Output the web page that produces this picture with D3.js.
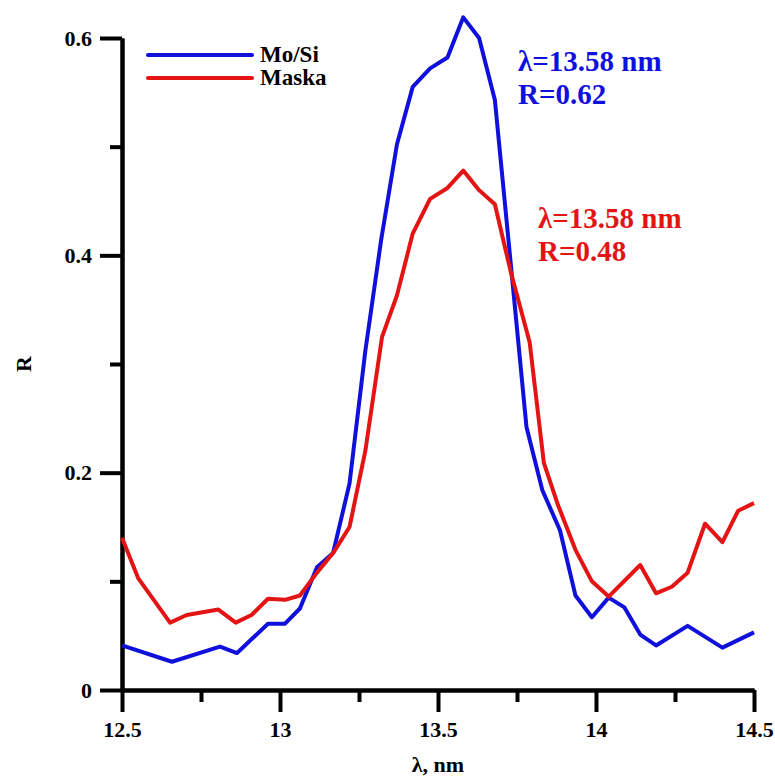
<!DOCTYPE html>
<html>
<head>
<meta charset="utf-8">
<script src="https://cdn.jsdelivr.net/npm/d3@7"></script>
<style>
  body { margin: 0; background: #fff; }
  text { font-family: "Liberation Serif", "Times New Roman", serif; font-weight: bold; }
</style>
</head>
<body>
<div class="canvas"></div>
<script>
// values
const moSiLambda = [12.5, 12.658, 12.81, 12.864, 12.962, 13.016, 13.063, 13.117, 13.168, 13.22,
  13.27, 13.32, 13.37, 13.42, 13.475, 13.53, 13.58, 13.63, 13.68, 13.73, 13.78, 13.83, 13.886,
  13.935, 13.987, 14.04, 14.09, 14.14, 14.19, 14.29, 14.40, 14.5];
const moSiR = [0.041, 0.026, 0.040, 0.034, 0.061, 0.061, 0.075, 0.113, 0.126, 0.19,
  0.312, 0.414, 0.502, 0.555, 0.572, 0.582, 0.619, 0.60, 0.543, 0.393, 0.242, 0.184, 0.147,
  0.087, 0.067, 0.085, 0.076, 0.051, 0.041, 0.059, 0.039, 0.053];

const maskaLambda = [12.5, 12.551, 12.652, 12.705, 12.805, 12.86, 12.91, 12.962, 13.016, 13.063,
  13.117, 13.168, 13.22, 13.27, 13.323, 13.37, 13.42, 13.475, 13.53, 13.58, 13.63, 13.68, 13.73,
  13.79, 13.835, 13.88, 13.935, 13.987, 14.04, 14.14, 14.19, 14.24, 14.29, 14.345, 14.40, 14.45, 14.5];
const maskaR = [0.140, 0.103, 0.062, 0.069, 0.074, 0.062, 0.069, 0.084, 0.083, 0.087,
  0.108, 0.126, 0.150, 0.22, 0.325, 0.363, 0.42, 0.452, 0.462, 0.478, 0.46, 0.447, 0.385,
  0.32, 0.209, 0.17, 0.129, 0.10, 0.086, 0.115, 0.089, 0.095, 0.108, 0.153, 0.136, 0.165, 0.172];

const xMajor = [12.5, 13, 13.5, 14, 14.5];
const xMinor = [12.75, 13.25, 13.75, 14.25];
const yMajor = [0, 0.2, 0.4, 0.6];
const yMinor = [0.1, 0.3, 0.5];

const seriesNames = ['Mo/Si', 'Maska'];
const colors = ['#1010dc', '#e41414'];

const W = 775, H = 776;
const margin = { top: 38, right: 21, bottom: 86, left: 122 };

const svg = d3.select('.canvas')
    .append('svg')
    .attr('width', W)
    .attr('height', H);

const x = d3.scaleLinear().domain([12.5, 14.5]).range([margin.left, W - margin.right]);
const y = d3.scaleLinear().domain([0, 0.6]).range([H - margin.bottom, margin.top]);

// minor ticks first, then major axes with labels
svg.append('g')
    .attr('transform', `translate(0, ${y(0)})`)
    .call(d3.axisBottom(x).tickValues(xMinor).tickSize(12).tickSizeOuter(0).tickFormat(''));
svg.append('g')
    .attr('transform', `translate(${x(12.5)}, 0)`)
    .call(d3.axisLeft(y).tickValues(yMinor).tickSize(12).tickSizeOuter(0).tickFormat(''));

const xAxis = svg.append('g')
    .attr('transform', `translate(0, ${y(0)})`)
    .call(d3.axisBottom(x).tickValues(xMajor).tickSize(22).tickSizeOuter(0).tickPadding(9)
        .tickFormat(d => d3.format('')(d)));

const yAxis = svg.append('g')
    .attr('transform', `translate(${x(12.5)}, 0)`)
    .call(d3.axisLeft(y).tickValues(yMajor).tickSize(22).tickSizeOuter(0).tickPadding(8)
        .tickFormat(d => d === 0 ? '0' : d3.format('.1f')(d)));

svg.selectAll('.domain, .tick line')
    .attr('stroke', '#000')
    .attr('stroke-width', 4);
svg.selectAll('.tick text')
    .attr('fill', '#000')
    .style('font-size', '22px');

// axis titles
svg.append('text')
    .attr('x', (x(12.5) + x(14.5)) / 2)
    .attr('y', 772)
    .attr('text-anchor', 'middle')
    .style('font-size', '22px')
    .text('λ, nm');

svg.append('text')
    .attr('transform', `translate(31, ${y(0.3)}) rotate(-90)`)
    .attr('text-anchor', 'middle')
    .style('font-size', '22px')
    .text('R');

// curves
const line = d3.line()
    .x(d => x(d[0]))
    .y(d => y(d[1]));

const series = [d3.zip(moSiLambda, moSiR), d3.zip(maskaLambda, maskaR)];

svg.selectAll('path.curve')
    .data(series)
    .enter()
    .append('path')
    .attr('class', 'curve')
    .attr('d', line)
    .attr('fill', 'none')
    .attr('stroke', (d, i) => colors[i])
    .attr('stroke-width', 4)
    .attr('stroke-linejoin', 'round');

// legend
const legend = svg.append('g');
seriesNames.forEach((name, i) => {
    const ly = 55 + i * 23;
    legend.append('line')
        .attr('x1', 148).attr('x2', 252)
        .attr('y1', ly).attr('y2', ly)
        .attr('stroke', colors[i])
        .attr('stroke-width', 4)
        .attr('stroke-linecap', 'round');
    legend.append('text')
        .attr('x', 260)
        .attr('y', ly + 7)
        .style('font-size', '23px')
        .text(name);
});

// peak annotations
const notes = [
    { lines: ['λ=13.58 nm', 'R=0.62'], x: 518, y: 71, color: colors[0] },
    { lines: ['λ=13.58 nm', 'R=0.48'], x: 538, y: 228, color: colors[1] }
];
notes.forEach(n => {
    n.lines.forEach((t, j) => {
        svg.append('text')
            .attr('x', n.x)
            .attr('y', n.y + j * 33)
            .attr('fill', n.color)
            .style('font-size', '29px')
            .text(t);
    });
});
</script>
</body>
</html>
